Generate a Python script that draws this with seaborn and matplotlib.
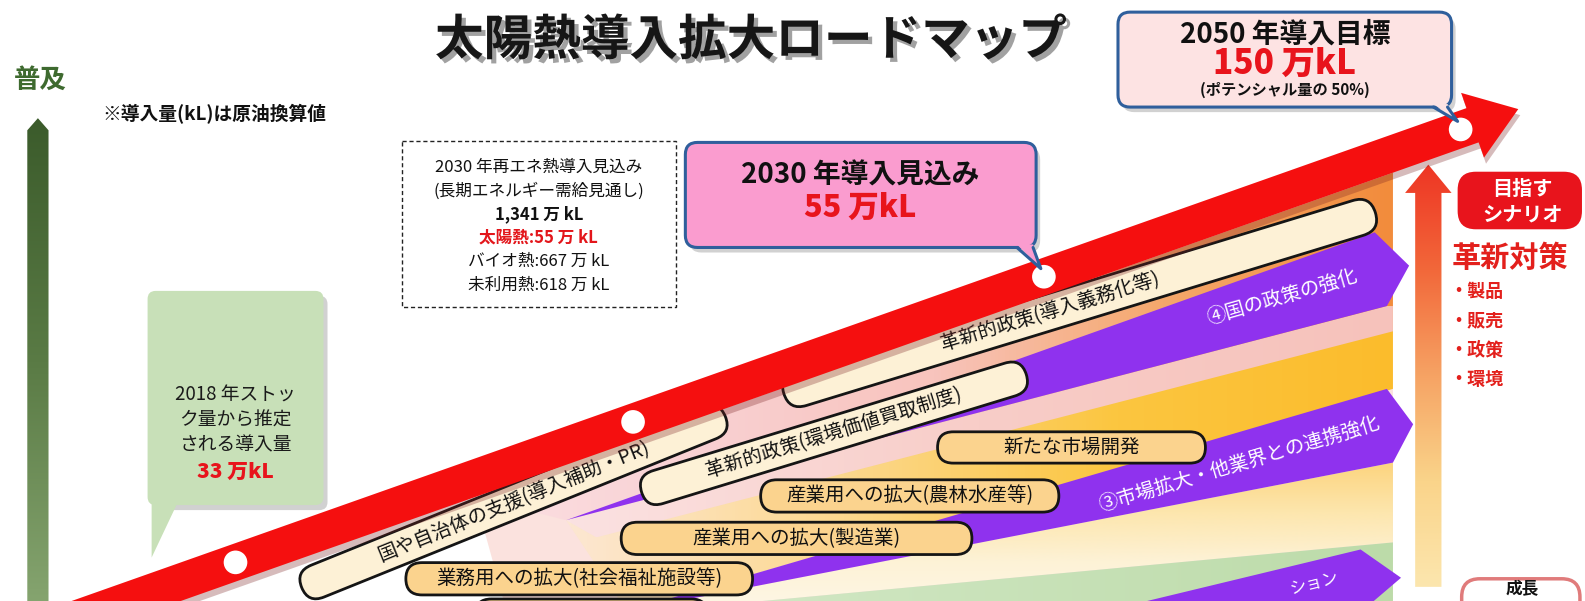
import numpy as np
import pandas as pd
import matplotlib
matplotlib.use("Agg")
import matplotlib.pyplot as plt
import seaborn as sns
from matplotlib.patches import Polygon, FancyBboxPatch, Rectangle
from matplotlib.lines import Line2D
from matplotlib.colors import LinearSegmentedColormap
from matplotlib.transforms import Affine2D
import matplotlib.patheffects as pe

# ---------------- content ----------------
TITLE = "太陽熱導入拡大ロードマップ"
AXIS_LABEL = "普及"
NOTE = "※導入量(kL)は原油換算値"

milestone_years = [2018, 2030, 2050]
milestone_amounts = [33, 55, 150]          # 万kL (原油換算)
potential_share = 50                        # %

renew_heat_total = 1341                     # 万kL
heat_sources = ["太陽熱", "バイオ熱", "未利用熱"]
heat_amounts = [55, 667, 618]               # 万kL

policy_labels = ["国や自治体の支援(導入補助・PR)",
                 "革新的政策(環境価値買取制度)",
                 "革新的政策(導入義務化等)"]
market_labels = ["業務用への拡大(社会福祉施設等)",
                 "産業用への拡大(製造業)",
                 "産業用への拡大(農林水産等)",
                 "新たな市場開発"]
band_labels = ["④国の政策の強化", "③市場拡大・他業界との連携強化", "ション"]
scenario_title = "革新対策"
scenario_items = ["製品", "販売", "政策", "環境"]

# ---------------- layout ----------------
W, H = 1568, 595
arrow_start = np.array([40.0, 625.0])
arrow_tip = np.array([1502.0, 108.0])
arrow_half = 18.0
head_len, head_half = 48.0, 34.0
stop_fracs = [0.132, 0.401, 0.679, 0.961]   # where the milestone dots sit on the arrow

PURPLE = "#8f32ee"
RED = "#e8141c"
CREAM = "#fdf1d6"
TAN = "#fbd38e"
FONT = ["Noto Sans CJK JP", "DejaVu Sans"]

sns.set_theme(style="white")
plt.rcParams["font.family"] = FONT

fig = plt.figure(figsize=(15.85, 6.01), dpi=100)
ax = fig.add_axes([0, 0, 1, 1])
ax.set_axis_off()


def gradient_fill(verts, colors, z, vertical=False):
    verts = np.asarray(verts, dtype=float)
    clip = Polygon(verts, closed=True, fc="none", ec="none", zorder=z)
    ax.add_patch(clip)
    (x0, y0), (x1, y1) = verts.min(0), verts.max(0)
    g = np.linspace(0, 1, 256)
    img = g[:, None] if vertical else g[None, :]
    cmap = LinearSegmentedColormap.from_list("g", colors)
    im = ax.imshow(img, cmap=cmap, extent=(x0, x1, y1, y0), origin="upper",
                   aspect="auto", zorder=z, interpolation="bilinear")
    im.set_clip_path(clip)


def solid(verts, color, z, **kw):
    ax.add_patch(Polygon(verts, closed=True, fc=color, ec="none", zorder=z, **kw))


def pill(cx, cy, length, height, angle, fc, text=None, fs=14, z=3.0, shift=0.0):
    box = FancyBboxPatch((cx - length / 2, cy - height / 2), length, height,
                         boxstyle=f"round,pad=0,rounding_size={height / 2}",
                         fc=fc, ec="#151515", lw=2.0, zorder=z)
    box.set_transform(Affine2D().rotate_deg_around(cx, cy, -angle) + ax.transData)
    ax.add_patch(box)
    if text:
        a = np.deg2rad(angle)
        tx, ty = cx + shift * np.cos(a), cy - shift * np.sin(a)
        ax.text(tx, ty, text, rotation=angle, rotation_mode="anchor",
                ha="center", va="center", fontsize=fs, color="#111", zorder=z + 0.1)


def callout(x0, y0, x1, y1, tail, fc, ec, lw, r, z):
    sh = FancyBboxPatch((x0 + 4, y0 + 5), x1 - x0, y1 - y0,
                        boxstyle=f"round,pad=0,rounding_size={r}",
                        fc="#7d7d7d", ec="none", alpha=0.35, zorder=z - 0.05)
    ax.add_patch(sh)
    ax.add_patch(FancyBboxPatch((x0, y0), x1 - x0, y1 - y0,
                                boxstyle=f"round,pad=0,rounding_size={r}",
                                fc=fc, ec=ec, lw=lw, zorder=z))
    (bl, tip, br) = tail
    ax.add_patch(Polygon([(bl[0], bl[1] - 3), tip, (br[0], br[1] - 3)], closed=True,
                         fc=fc, ec="none", zorder=z + 0.01))
    if ec != "none":
        ax.add_line(Line2D([bl[0], tip[0], br[0]], [bl[1], tip[1], br[1]],
                           color=ec, lw=lw, zorder=z + 0.02, solid_capstyle="round"))


# ---------------- roadmap arrow geometry ----------------
d = arrow_tip - arrow_start
d = d / np.linalg.norm(d)
nrm = np.array([abs(d[1]), abs(d[0])])      # screen-downward normal of the arrow
slope = (arrow_start[1] - arrow_tip[1]) / (arrow_tip[0] - arrow_start[0])


def arrow_lower(x):
    return arrow_start[1] - slope * (x - arrow_start[0]) + arrow_half / d[0]


XR = 1378.0                                   # right edge of the colour fan

# ---------------- colour fan below the arrow ----------------
solid([(470, arrow_lower(470)), (XR, arrow_lower(XR)), (XR, 601), (500, 601)], "#fbe2de", 1.0)
gradient_fill([(470, arrow_lower(470)), (XR, arrow_lower(XR)), (XR, 303), (560, 515)],
              ["#fbe0e3", "#f9d0d2", "#f8c4bd", "#f5a86c", "#f28c3c"], 1.2)
gradient_fill([(560, 515), (1372, 303), (XR, 303), (XR, 385), (620, 605)],
              ["#fce7d2", "#fcd88e", "#fbc640", "#fbbc2c"], 1.3)
gradient_fill([(560, 515), (1372, 303), (XR, 303), (XR, 328), (590, 532)],
              ["#fbe2e2", "#f8cdc8", "#f6c2bb"], 1.35)
gradient_fill([(620, 605), (XR, 458), (XR, 537), (690, 601)],
              ["#fcd47e", "#fde6ad", "#fdf2d6", "#fef7e6"], 1.4, vertical=True)
gradient_fill([(690, 601), (XR, 537), (XR, 601)], ["#d3e8c6", "#bcdba9"], 1.5)

# purple strategy bands
solid([(560, 515), (1360, 230), (1394, 263), (1372, 303)], PURPLE, 2.0)
solid([(620, 605), (1372, 385), (1398, 420), (1378, 458)], PURPLE, 2.0)
solid([(1110, 601), (1346, 544), (1386, 572), (1352, 601)], PURPLE, 2.0)
band_text = [((1268, 294), 16, 14), ((1226, 459), 16.5, 14), ((1300, 578), 14, 12)]
for lab, ((bx, by), rot, fs) in zip(band_labels, band_text):
    ax.text(bx, by, lab, rotation=rot, rotation_mode="anchor", ha="center", va="center",
            fontsize=fs, color="white", zorder=2.5)

# ---------------- measure boxes ----------------
pill(508, 497, 452, 34, 22, CREAM, policy_labels[0], 14)
pill(825, 429, 398, 34, 17, CREAM, policy_labels[1], 14)
pill(1068, 300, 612, 36, 17, CREAM, policy_labels[2], 14, shift=-30)

pill(1060, 443, 265, 31, 0, TAN, market_labels[3], 14)
pill(900, 491, 295, 32, 0, TAN, market_labels[2], 14)
pill(788, 533, 347, 32, 0, TAN, market_labels[1], 14)
pill(573, 573, 343, 32, 0, TAN, market_labels[0], 14)
pill(585, 609, 230, 32, 0, TAN)

# ---------------- red roadmap arrow ----------------
base = arrow_tip - head_len * d
arrow_verts = [arrow_start + arrow_half * nrm, base + arrow_half * nrm,
               base + head_half * nrm, arrow_tip, base - head_half * nrm,
               base - arrow_half * nrm, arrow_start - arrow_half * nrm]
shadow = [tuple(np.asarray(v) + np.array([2, 6])) for v in arrow_verts]
solid(shadow, "#7a2020", 3.8, alpha=0.30)
solid(arrow_verts, "#f50f0f", 4.0)

stops = pd.DataFrame({
    "x": [arrow_start[0] + f * (arrow_tip[0] - arrow_start[0]) for f in stop_fracs],
    "y": [arrow_start[1] + f * (arrow_tip[1] - arrow_start[1]) for f in stop_fracs],
})
sns.scatterplot(data=stops, x="x", y="y", s=290, color="white", edgecolor="none",
                ax=ax, zorder=4.5, legend=False)

# ---------------- left growth axis ----------------
gradient_fill([(27, 601), (27, 129), (37.5, 117), (48, 129), (48, 601)],
              ["#3b5b2b", "#5a7b45", "#86a570"], 1.0, vertical=True)
ax.text(40, 80, AXIS_LABEL, ha="center", va="center", fontsize=19, fontweight="bold",
        color="#3e6a2f")
ax.text(101, 113, NOTE, ha="left", va="center", fontsize=13.5, fontweight="bold", color="#111")

# ---------------- title ----------------
ax.text(743, 40, TITLE, ha="center", va="center", fontsize=35, fontweight="bold",
        color="#161616", zorder=6,
        path_effects=[pe.withSimplePatchShadow(offset=(3, -3), shadow_rgbFace="#8a8a8a",
                                               alpha=0.8)])

# ---------------- 2030 outlook box ----------------
ax.add_patch(Rectangle((398, 140), 271, 164, fc="white", ec="#222", lw=1.0,
                       ls=(0, (3, 2)), zorder=5))
outlook = [
    (f"{milestone_years[1]} 年再エネ熱導入見込み", "normal", "#111"),
    ("(長期エネルギー需給見通し)", "normal", "#111"),
    (f"{renew_heat_total:,} 万 kL", "bold", "#111"),
    (f"{heat_sources[0]}:{heat_amounts[0]} 万 kL", "bold", "#e3161b"),
    (f"{heat_sources[1]}:{heat_amounts[1]} 万 kL", "normal", "#111"),
    (f"{heat_sources[2]}:{heat_amounts[2]} 万 kL", "normal", "#111"),
]
for i, (txt, wt, col) in enumerate(outlook):
    ax.text(533, 166 + i * 23.2, txt, ha="center", va="center", fontsize=12,
            fontweight=wt, color=col, zorder=5.1)

# ---------------- callouts ----------------
dots = stops[["x", "y"]].to_numpy()

callout(678, 141, 1025, 245, [(1006, 245), tuple(dots[2] + [-3, -8]), (1022, 245)],
        "#fa9ccf", "#2f5f9c", 2.2, 12, 5.0)
ax.text(851, 174, f"{milestone_years[1]} 年導入見込み", ha="center", va="center",
        fontsize=20, fontweight="bold", color="#111", zorder=5.2)
ax.text(851, 205, f"{milestone_amounts[1]} 万kL", ha="center", va="center",
        fontsize=22, fontweight="heavy", color="#e8141c", zorder=5.2)

callout(1106, 12, 1436, 106, [(1418, 106), tuple(dots[3] + [-3, -8]), (1432, 106)],
        "#fde3e3", "#2f5f9c", 2.2, 12, 5.0)
ax.text(1271, 34, f"{milestone_years[2]} 年導入目標", ha="center", va="center",
        fontsize=20, fontweight="bold", color="#111", zorder=5.2)
ax.text(1271, 63, f"{milestone_amounts[2]} 万kL", ha="center", va="center",
        fontsize=24, fontweight="heavy", color="#e8141c", zorder=5.2)
ax.text(1271, 89, f"(ポテンシャル量の {potential_share}%)", ha="center", va="center",
        fontsize=11, fontweight="bold", color="#111", zorder=5.2)

callout(146, 288, 320, 500, [(150, 500), (150, 552), (176, 500)],
        "#c8e0b8", "none", 0, 8, 5.0)
for i, txt in enumerate([f"{milestone_years[0]} 年ストッ", "ク量から推定", "される導入量"]):
    ax.text(233, 391 + i * 24.5, txt, ha="center", va="center", fontsize=13.5,
            color="#1a1a1a", zorder=5.2)
ax.text(233, 467, f"{milestone_amounts[0]} 万kL", ha="center", va="center",
        fontsize=15, fontweight="heavy", color="#e8141c", zorder=5.2)

# ---------------- scenario column ----------------
gradient_fill([(1400, 581), (1400, 191), (1390, 191), (1413, 163), (1436, 191),
               (1426, 191), (1426, 581)],
              ["#ee3524", "#f2683a", "#f6a364", "#fad48a", "#fce6ae"], 2.0, vertical=True)
ax.add_patch(FancyBboxPatch((1442, 170), 123, 57, boxstyle="round,pad=0,rounding_size=18",
                            fc=RED, ec="none", zorder=5))
ax.text(1506, 187, "目指す", ha="center", va="center", fontsize=14.5, fontweight="bold",
        color="white", zorder=5.1)
ax.text(1506, 212, "シナリオ", ha="center", va="center", fontsize=14.5, fontweight="bold",
        color="white", zorder=5.1)
ax.text(1494, 255, scenario_title, ha="center", va="center", fontsize=21,
        fontweight="bold", color="#e3201c", zorder=5.1)
for i, item in enumerate(scenario_items):
    ax.text(1434, 289 + i * 29, "・" + item, ha="left", va="center", fontsize=13,
            fontweight="bold", color="#e3201c", zorder=5.1)

ax.add_patch(FancyBboxPatch((1446, 573), 117, 44, boxstyle="round,pad=0,rounding_size=18",
                            fc="white", ec="#e07b7b", lw=2.5, zorder=5))
ax.text(1506, 583, "成長", ha="center", va="center", fontsize=12, fontweight="bold",
        color="#111", zorder=5.1)

ax.set_xlim(0, W)
ax.set_ylim(H, 0)
fig.savefig("out.png", dpi=100, facecolor="white")
